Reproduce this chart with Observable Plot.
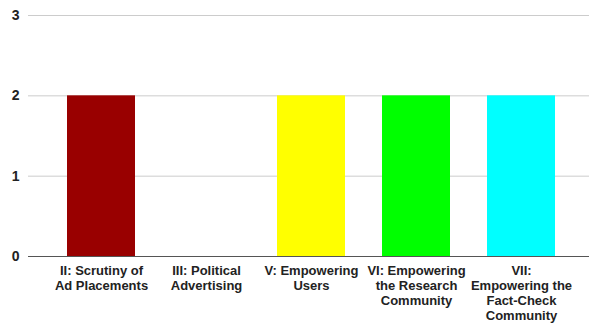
<!DOCTYPE html>
<html>
<head>
<meta charset="utf-8">
<script src="https://cdn.jsdelivr.net/npm/d3@7"></script>
<script src="https://cdn.jsdelivr.net/npm/@observablehq/plot@0.6"></script>
<style>
  html, body { margin: 0; padding: 0; background: #fff; }
  #chart svg { display: block; }
</style>
</head>
<body>
<div id="chart"></div>
<script>
const categories = [
  "II: Scrutiny of\nAd Placements",
  "III: Political\nAdvertising",
  "V: Empowering\nUsers",
  "VI: Empowering\nthe Research\nCommunity",
  "VII:\nEmpowering the\nFact-Check\nCommunity"
];
const values = [2, 0, 2, 2, 2];
const colors = ["#990000", "#ffffff", "#ffff00", "#00ff00", "#00ffff"];
const yTicks = [0, 1, 2, 3];

const data = categories.map((c, i) => ({category: c, value: values[i], color: colors[i]}));

const chart = Plot.plot({
  width: 589,
  height: 324,
  marginLeft: 47,
  marginRight: 14,
  marginTop: 15,
  marginBottom: 68,
  style: {fontFamily: "'Liberation Sans', Arial, sans-serif", background: "#fff"},
  x: {domain: categories, paddingInner: 0.35, paddingOuter: 0.175, label: null},
  y: {domain: [0, 3], ticks: yTicks, label: null},
  marks: [
    Plot.ruleY(yTicks.filter(d => d > 0), {stroke: "#cccccc", strokeWidth: 1, insetLeft: -19, insetRight: -14}),
    Plot.barY(data, {x: "category", y: "value", fill: "color"}),
    Plot.ruleY([0], {stroke: "#555555", strokeWidth: 1.2, insetLeft: -19, insetRight: -14}),
    Plot.axisY({ticks: yTicks, tickFormat: "d", tickSize: 0, tickPadding: 28, fontSize: 14, fontWeight: "bold", fill: "#222", label: null}),
    Plot.axisX({tickSize: 0, tickPadding: 8, fontSize: 13, fontWeight: "bold", fill: "#222", label: null, lineHeight: 1.15})
  ]
});
document.getElementById("chart").appendChild(chart);
</script>
</body>
</html>
